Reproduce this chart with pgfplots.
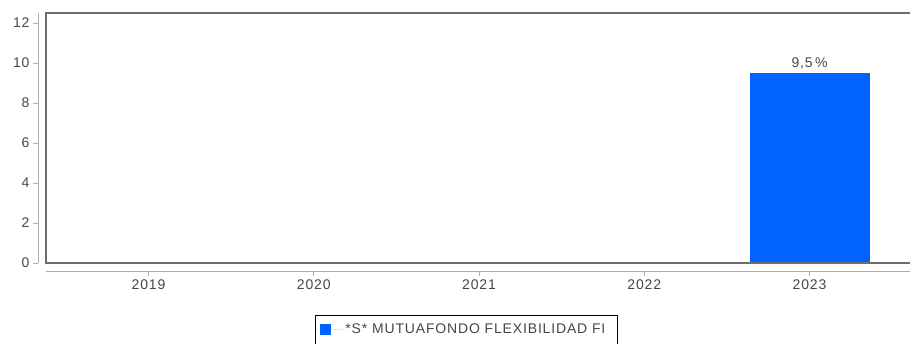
\documentclass[border=0pt]{standalone}
\usepackage{pgfplots}
\pgfplotsset{compat=1.18}
\usepackage{fontspec}
\setmainfont{Liberation Sans}[LetterSpace=6]
\definecolor{barblue}{RGB}{0,98,255}
\definecolor{txt}{RGB}{70,70,70}
\definecolor{frame}{RGB}{110,110,110}
\definecolor{axl}{RGB}{175,175,175}
\begin{document}
\begin{tikzpicture}[x=1pt,y=1pt]
\path[use as bounding box] (0,0) rectangle (910,-343);
\begin{axis}[
  at={(46pt,-263pt)}, anchor=south west,
  scale only axis, width=866pt, height=250pt,
  xmin=-0.62, xmax=4.62, ymin=0, ymax=12.5,
  axis x line=bottom, axis y line=left,
  axis x line shift=8pt, axis y line shift=8pt,
  axis line style={axl, -, line width=0.8pt},
  tick style={axl, line width=0.8pt},
  tick align=outside, major tick length=5pt,
  xtick={0,1,2,3,4}, xticklabels={2019,2020,2021,2022,2023},
  ytick={0,2,4,6,8,10,12},
  /pgf/number format/assume math mode=true,
  ticklabel style={font=\fontsize{14}{16}\selectfont, text=txt},
  ybar, bar width=120pt,
  nodes near coords={9,5\,\%},
  every node near coord/.append style={font=\fontsize{14}{16}\selectfont, text=txt, yshift=0pt},
  legend style={at={(0.3106,-0.208)}, anchor=north west, draw=black, line width=1pt,
    font=\fontsize{14}{16}\selectfont, text=txt, inner xsep=0pt, inner ysep=6pt,
    legend cell align=left, nodes={inner xsep=0pt, inner ysep=2pt, text depth=12pt}, /tikz/column sep=0pt},
  legend image code/.code={\fill[barblue] (5pt,-0.5pt) rectangle (16pt,10.5pt); \path (0pt,5pt) -- (30pt,5pt);},
  after end axis/.code={\draw[frame, line width=1.2pt] (rel axis cs:0,0) rectangle (rel axis cs:1,1);},
]
\addplot[fill=barblue, draw=none] coordinates {(4,9.5)};
\addlegendentry{*S* MUTUAFONDO FLEXIBILIDAD FI\hspace*{12pt}}
\end{axis}
\end{tikzpicture}
\end{document}
